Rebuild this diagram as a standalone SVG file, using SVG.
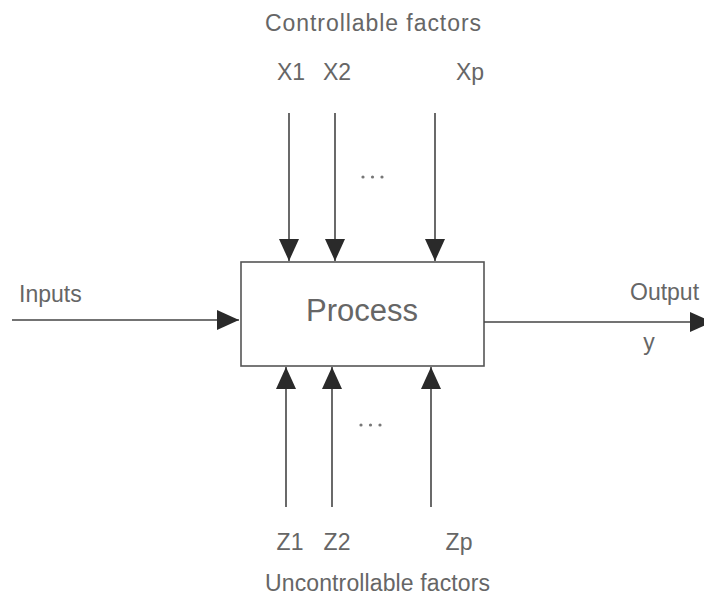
<svg xmlns="http://www.w3.org/2000/svg" width="704" height="598" viewBox="0 0 704 598">
<style>
text{font-family:"Liberation Sans",Arial,sans-serif;fill:#666;}
.l{font-size:23px;}
.c{stroke:#444;stroke-width:1.6;fill:none;}
.d{fill:#777;}
</style>
<defs>
<marker id="ahb" viewBox="0 0 22 20" refX="22" refY="10" markerWidth="22" markerHeight="20" markerUnits="userSpaceOnUse" orient="auto">
<path d="M0,0 L22,10 L0,20 Z" fill="#2a2a2a"/>
</marker>
</defs>
<rect width="704" height="598" fill="#fff"/>
<g id="process">
<rect x="241" y="262" width="243" height="104" fill="#fff" stroke="#555" stroke-width="1.6"/>
<text x="362" y="321" font-size="31" text-anchor="middle">Process</text>
</g>
<g id="connectors">
<line class="c" x1="289" y1="113" x2="289" y2="261" marker-end="url(#ahb)"/>
<line class="c" x1="335" y1="113" x2="335" y2="261" marker-end="url(#ahb)"/>
<line class="c" x1="435" y1="113" x2="435" y2="261" marker-end="url(#ahb)"/>
<line class="c" x1="286" y1="507" x2="286" y2="367" marker-end="url(#ahb)"/>
<line class="c" x1="332" y1="507" x2="332" y2="367" marker-end="url(#ahb)"/>
<line class="c" x1="431" y1="507" x2="431" y2="367" marker-end="url(#ahb)"/>
<line class="c" x1="12" y1="320" x2="239" y2="320" marker-end="url(#ahb)"/>
<line class="c" x1="484" y1="322" x2="712" y2="322" marker-end="url(#ahb)"/>
</g>
<g id="labels">
<text class="l" x="265" y="31" textLength="216" lengthAdjust="spacing">Controllable factors</text>
<text class="l" x="291" y="80" text-anchor="middle">X1</text>
<text class="l" x="337" y="80" text-anchor="middle">X2</text>
<text class="l" x="470" y="80" text-anchor="middle">Xp</text>
<circle class="d" cx="363" cy="177" r="1.6"/>
<circle class="d" cx="372.5" cy="177" r="1.6"/>
<circle class="d" cx="382" cy="177" r="1.6"/>
<text class="l" x="19" y="302">Inputs</text>
<text class="l" x="630" y="300">Output</text>
<text class="l" x="649" y="350" text-anchor="middle">y</text>
<circle class="d" cx="361" cy="425" r="1.6"/>
<circle class="d" cx="370.5" cy="425" r="1.6"/>
<circle class="d" cx="380" cy="425" r="1.6"/>
<text class="l" x="290" y="550" text-anchor="middle">Z1</text>
<text class="l" x="337" y="550" text-anchor="middle">Z2</text>
<text class="l" x="459" y="550" text-anchor="middle">Zp</text>
<text class="l" x="265" y="591" textLength="225" lengthAdjust="spacing">Uncontrollable factors</text>
</g>
</svg>
